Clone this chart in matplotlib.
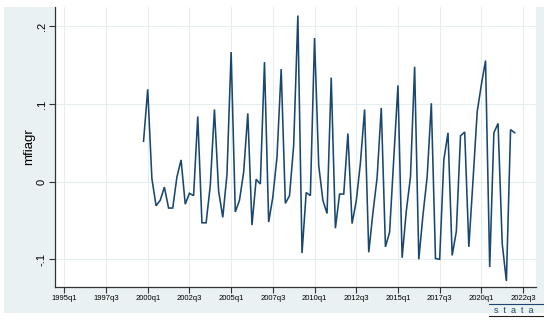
import numpy as np
import matplotlib.pyplot as plt
from matplotlib.patches import Rectangle
from matplotlib.lines import Line2D

# quarterly series mfiagr, 1999q4 .. 2022q1
start_year, start_q = 1999, 4
mfiagr = [0.052, 0.119, 0.004, -0.031, -0.024, -0.007, -0.034, -0.034, 0.006, 0.028,
          -0.029, -0.015, -0.018, 0.084, -0.053, -0.053, -0.005, 0.093, -0.012, -0.046,
          0.009, 0.167, -0.039, -0.024, 0.012, 0.088, -0.056, 0.003, -0.003, 0.154,
          -0.052, -0.020, 0.032, 0.145, -0.028, -0.018, 0.047, 0.214, -0.092, -0.014,
          -0.018, 0.185, 0.021, -0.024, -0.041, 0.134, -0.060, -0.016, -0.016, 0.062,
          -0.054, -0.025, 0.024, 0.093, -0.091, -0.040, 0.005, 0.095, -0.084, -0.065,
          0.030, 0.124, -0.098, -0.038, 0.006, 0.148, -0.100, -0.043, 0.006, 0.101,
          -0.099, -0.100, 0.028, 0.063, -0.095, -0.064, 0.059, 0.064, -0.084, 0.002,
          0.090, 0.125, 0.156, -0.110, 0.063, 0.075, -0.080, -0.128, 0.067, 0.063]

xtick_labels = ['1995q1', '1997q3', '2000q1', '2002q3', '2005q1', '2007q3',
                '2010q1', '2012q3', '2015q1', '2017q3', '2020q1', '2022q3']
yticks = [-0.1, 0, 0.1, 0.2]
ytick_labels = ['-.1', '0', '.1', '.2']


def tq(label):
    # Stata quarterly date: 1960q1 = 0
    y, q = label.split('q')
    return (int(y) - 1960) * 4 + int(q) - 1


t0 = tq(f'{start_year}q{start_q}')
t = np.arange(t0, t0 + len(mfiagr))
xticks = [tq(s) for s in xtick_labels]

W, H = 550, 323
plt.rcParams['font.family'] = ['Liberation Sans', 'DejaVu Sans']
fig = plt.figure(figsize=(W / 100, H / 100), dpi=100, facecolor='white')

# stata graph region (light blue), behind the axes
fig.add_artist(Rectangle((4 / W, 1 - 313 / H), 540 / W, 306 / H,
                         transform=fig.transFigure, facecolor='#e9f1f2',
                         edgecolor='none', zorder=-10))

ax = fig.add_axes([55 / W, 1 - 287 / H, (536 - 55) / W, (287 - 7) / H])
ax.set_facecolor('white')
ax.plot(t, mfiagr, color='#1a476f', lw=1.15, solid_joinstyle='miter')

ax.set_xlim(tq('1995q1') - 2.23, tq('1995q1') + 113.1)
ax.set_ylim(-0.1357, 0.225)
ax.set_xticks(xticks)
ax.set_xticklabels(xtick_labels, fontsize=5.5)
ax.set_yticks(yticks)
ax.set_yticklabels(ytick_labels, fontsize=8, rotation=90, va='center')
ax.set_ylabel('mfiagr', fontsize=9.5, labelpad=1)
ax.grid(True, color='#e6eef0', lw=0.8)
ax.set_axisbelow(True)

for s in ['top', 'right']:
    ax.spines[s].set_visible(False)
for s in ['left', 'bottom']:
    ax.spines[s].set_color('#333333')
    ax.spines[s].set_linewidth(0.9)
ax.tick_params(axis='both', length=4, width=0.8, color='#333333', pad=2)

# stata logo
fig.add_artist(Line2D([489 / W, 543 / W], [1 - 304 / H] * 2, color='#1a476f', lw=0.8))
fig.add_artist(Line2D([489 / W, 543 / W], [1 - 316 / H] * 2, color='#222222', lw=0.8))
fig.text(514 / W, 1 - 310.5 / H, 's  t  a  t  a', fontsize=6.5, color='#1a476f',
         ha='center', va='center')

fig.savefig('out.png', dpi=100, facecolor='white')
